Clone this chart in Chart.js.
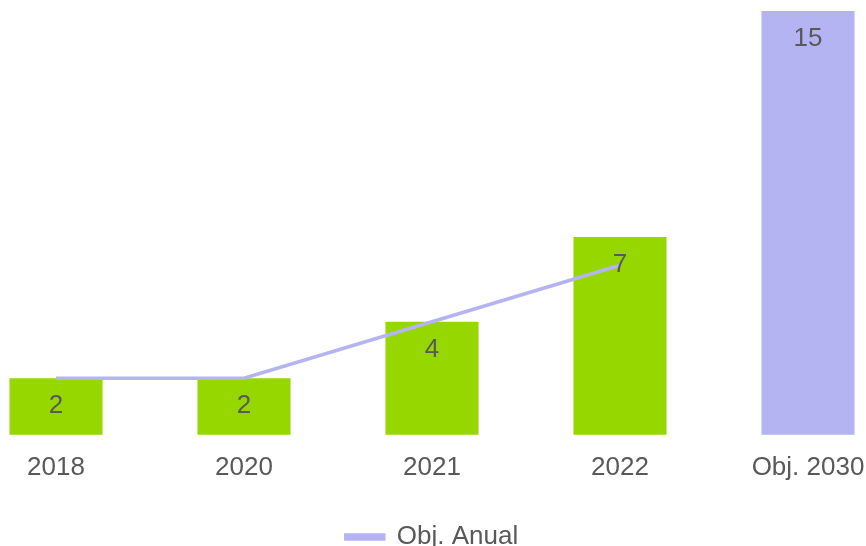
<!DOCTYPE html>
<html>
<head>
<meta charset="utf-8">
<script src="https://cdn.jsdelivr.net/npm/chart.js@4/dist/chart.umd.min.js"></script>
<style>
  html, body { margin: 0; padding: 0; background: #fff; }
  #wrap { width: 866px; height: 546px; }
</style>
</head>
<body>
<div id="wrap"><canvas id="chart"></canvas></div>
<script>
// Chart data
const categories = ['2018', '2020', '2021', '2022', 'Obj. 2030'];
const barValues = [2, 2, 4, 7, 15];
const objAnual = [2, 2, 4, 6, null];
const barColors = ['#96D700', '#96D700', '#96D700', '#96D700', '#B4B4F3'];

const textColor = '#595959';
Chart.defaults.font.family = '"Liberation Sans", Arial, sans-serif';
Chart.defaults.color = textColor;

// Draws the value inside each bar, a bit below its top
const barValueLabels = {
    id: 'barValueLabels',
    afterDatasetsDraw(chart) {
        const ctx = chart.ctx;
        const meta = chart.getDatasetMeta(1);  // the bar dataset
        ctx.save();
        ctx.font = '26px "Liberation Sans", Arial, sans-serif';
        ctx.fillStyle = textColor;
        ctx.textAlign = 'center';
        ctx.textBaseline = 'middle';
        meta.data.forEach(function(bar, i) {
            ctx.fillText(String(barValues[i]), bar.x, bar.y + 28);
        });
        ctx.restore();
    }
};

var ctx = document.getElementById('chart').getContext('2d');
new Chart(ctx, {
    data: {
        labels: categories,
        datasets: [
            {
                type: 'line',
                label: 'Obj. Anual',
                data: objAnual,
                borderColor: '#B4B4F3',
                backgroundColor: '#B4B4F3',
                borderWidth: 3.5,
                pointRadius: 0,
                tension: 0,
                clip: false,
                order: 0
            },
            {
                type: 'bar',
                label: 'Valor',
                data: barValues,
                backgroundColor: barColors,
                barPercentage: 1,
                categoryPercentage: 0.495,
                clip: false,
                order: 1
            }
        ]
    },
    options: {
        responsive: true,
        maintainAspectRatio: false,
        animation: false,
        layout: { padding: { left: 56, right: 58, top: 11, bottom: -14 } },
        scales: {
            x: {
                offset: false,
                grid: { display: false },
                border: { display: false },
                ticks: { font: { size: 26 }, color: textColor, padding: 9, maxRotation: 0 },
                afterFit: function(scale) {
                    // edge labels may hang over the sides, like the original
                    scale.paddingLeft = 0;
                    scale.paddingRight = 0;
                    scale.height += 22;
                }
            },
            y: {
                display: false,
                min: 0,
                max: 15
            }
        },
        plugins: {
            legend: {
                position: 'bottom',
                labels: {
                    filter: function(item) { return item.text === 'Obj. Anual'; },
                    boxWidth: 38,
                    boxHeight: 4,
                    font: { size: 26 },
                    color: textColor,
                    padding: 10
                }
            },
            tooltip: { enabled: false }
        }
    },
    plugins: [barValueLabels]
});
</script>
</body>
</html>
